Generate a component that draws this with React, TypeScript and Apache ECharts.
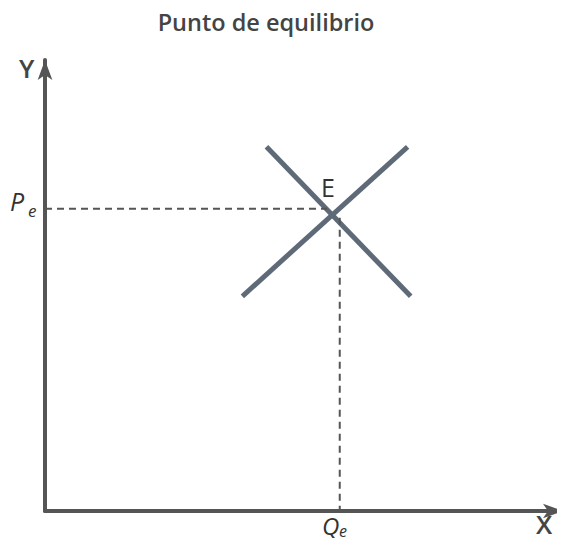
import React, { useEffect, useRef } from "react";
import * as echarts from "echarts";

const titleText = "Punto de equilibrio";
const demand: number[][] = [[42.75, 80.75], [70.6, 47.6]];
const supply: number[][] = [[38.1, 47.6], [70.0, 80.75]];
const peLine: number[][] = [[0, 67.0], [54.5, 67.0]];
const qeLine: number[][] = [[56.9, 65.0], [56.9, 0]];

export default function App() {
  const ref = useRef<HTMLDivElement>(null);
  useEffect(() => {
    if (!ref.current) return;
    const chart = echarts.init(ref.current, null, { renderer: "svg" });
    const axisColor = "#555";
    const lineColor = "#5f6a78";
    const font = "'Open Sans', sans-serif";
    const axisCommon = {
      type: "value" as const,
      min: 0,
      max: 100,
      splitLine: { show: false },
      axisTick: { show: false },
      axisLabel: { show: false },
      axisLine: {
        show: true,
        symbol: ["none", "arrow"],
        symbolSize: [11, 20],
        lineStyle: { color: axisColor, width: 4 },
      },
    };
    chart.setOption({
      animation: false,
      title: {
        text: titleText,
        left: 261,
        textAlign: "center",
        top: 5,
        textStyle: { fontFamily: font, fontSize: 23.5, fontWeight: 600, color: "#444" },
      },
      grid: { left: 45, right: 2, top: 60, bottom: 35 },
      xAxis: { ...axisCommon },
      yAxis: { ...axisCommon },
      series: [
        {
          type: "line",
          data: demand,
          showSymbol: false,
          lineStyle: { color: lineColor, width: 5, cap: "butt" },
          silent: true,
        },
        {
          type: "line",
          data: supply,
          showSymbol: false,
          lineStyle: { color: lineColor, width: 5, cap: "butt" },
          silent: true,
        },
        {
          type: "line",
          data: peLine,
          showSymbol: false,
          lineStyle: { color: "#555", width: 2, type: [7, 5] },
          silent: true,
        },
        {
          type: "line",
          data: qeLine,
          showSymbol: false,
          lineStyle: { color: "#555", width: 2, type: [7, 5] },
          silent: true,
        },
      ],
      graphic: [
        { type: "text", left: 19, top: 55, style: { text: "Y", fontFamily: font, fontSize: 26, fontWeight: 600, fill: "#444" } },
        { type: "text", left: 536, top: 511, style: { text: "X", fontFamily: font, fontSize: 26, fontWeight: 600, fill: "#444" } },
        { type: "text", left: 321, top: 174, style: { text: "E", fontFamily: font, fontSize: 25, fontWeight: 500, fill: "#333" } },
        { type: "text", left: 10, top: 188, style: { text: "P", fontFamily: font, fontSize: 25, fontStyle: "italic", fill: "#333" } },
        { type: "text", left: 28, top: 202, style: { text: "e", fontFamily: font, fontSize: 17, fontStyle: "italic", fill: "#333" } },
        { type: "text", left: 322, top: 513, style: { text: "Q", fontFamily: font, fontSize: 24, fontStyle: "italic", fill: "#333" } },
        { type: "text", left: 339, top: 523, style: { text: "e", fontFamily: font, fontSize: 16, fontStyle: "italic", fill: "#333" } },
      ],
    });
    return () => chart.dispose();
  }, []);
  return <div ref={ref} style={{ width: 565, height: 546, margin: -8 }} />;
}
